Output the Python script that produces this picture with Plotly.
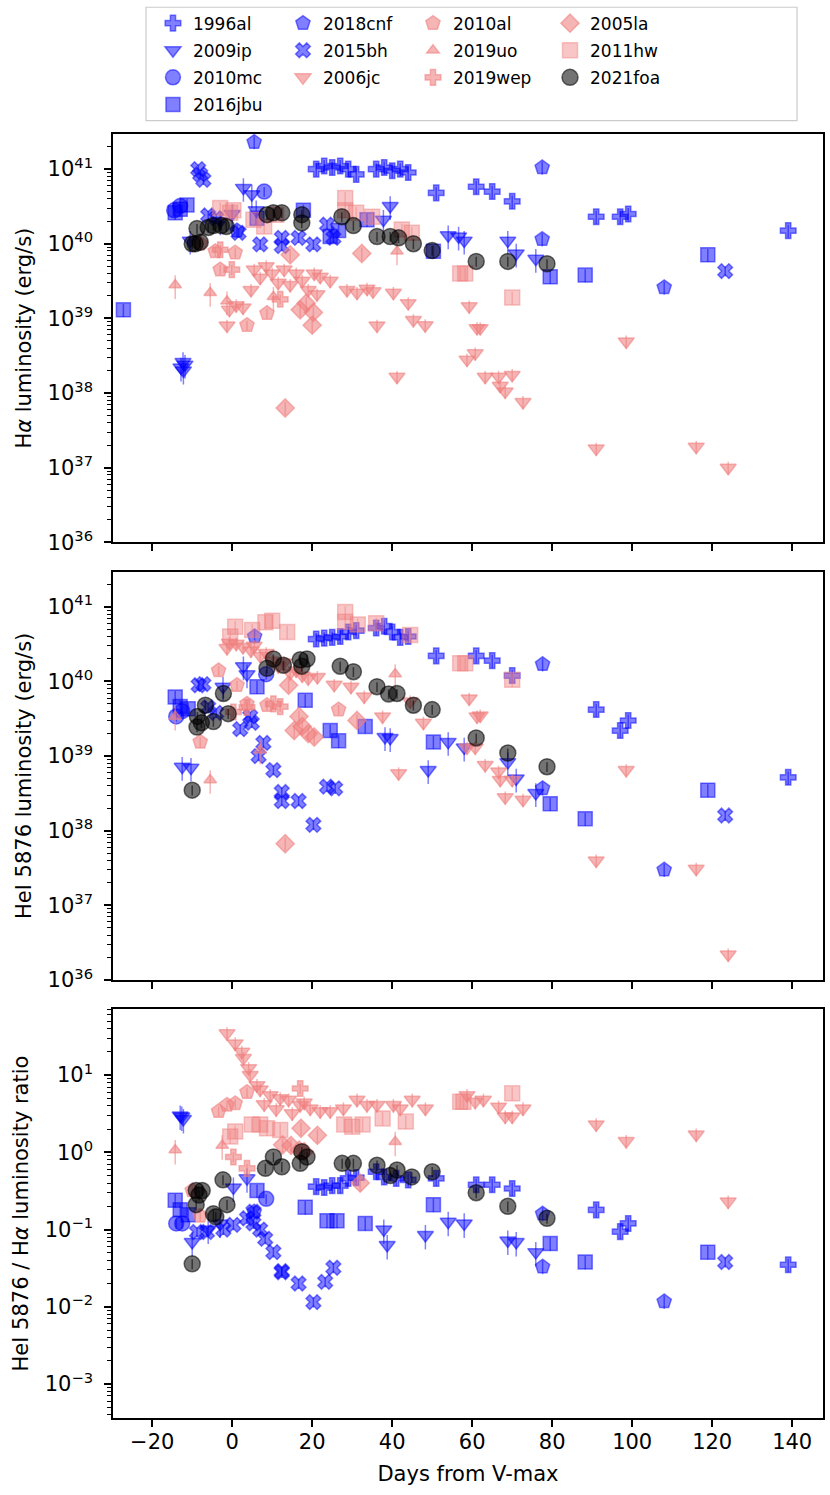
import plotly.graph_objects as go

# Days from V-max and line luminosities (erg/s).
# HA = H-alpha, HE = HeI 5876, RATIO = HeI / H-alpha

# 1996al
AL96_HA_DAYS = [21, 23, 25, 27, 29, 31, 36, 38, 40, 42, 44, 51, 61, 65, 70, 91, 97, 99, 139]
AL96_HA = [1.0e41, 1.1e41, 1.05e41, 1.1e41, 1.0e41, 8.5e40, 1.0e41, 1.05e41, 9.5e40, 1.0e41,
           9.0e40, 4.8e40, 5.8e40, 5.0e40, 3.7e40, 2.3e40, 2.3e40, 2.5e40, 1.5e40]
AL96_HE_DAYS = [21, 23, 25, 27, 29, 31, 36, 38, 40, 42, 44, 51, 61, 65, 70, 91, 97, 99, 139]
AL96_HE = [3.7e40, 3.8e40, 3.9e40, 4.0e40, 4.6e40, 4.8e40, 5.2e40, 5.5e40, 4.6e40, 3.9e40,
           4.0e40, 2.2e40, 2.2e40, 1.9e40, 1.2e40, 4.2e39, 2.2e39, 3.0e39, 5.2e38]
AL96_RATIO_DAYS = [21, 23, 25, 27, 29, 31, 36, 38, 41, 44, 51, 61, 65, 70, 91, 97, 99, 139]
AL96_RATIO = [0.36, 0.35, 0.37, 0.37, 0.46, 0.47, 0.56, 0.48, 0.46, 0.44, 0.46, 0.38, 0.38,
              0.34, 0.18, 0.094, 0.12, 0.035]

# 2009ip
IP09_HA_DAYS = [-12.8, -12.3, -11.8, -12.2, -10.5, -3, 0, 2.8, 4.9, 6, 37.8, 39.5, 54, 56.6,
                58, 68.9, 71, 75.9]
IP09_HA = [2.2e38, 2.6e38, 2.4e38, 2.0e38, 1.1e40, 2.0e40, 2.5e40, 5.6e40, 4.6e40, 2.8e40,
           2.1e40, 3.2e40, 1.3e40, 1.25e40, 1.1e40, 1.1e40, 7.4e39, 6.3e39]
IP09_HE_DAYS = [-12.5, -10.3, -2.3, 2.8, 3.7, 38.2, 39.5, 49, 54, 58, 68.9, 71, 75.9]
IP09_HE = [7.2e38, 7.0e38, 8.5e39, 1.6e40, 1.25e40, 1.8e39, 1.75e39, 6.5e38, 1.55e39, 1.3e39,
           8.3e38, 5.0e38, 3.2e38]
IP09_RATIO_DAYS = [-13, -12.6, -12.2, -10, -6, -3, 0.3, 3.7, 37.9, 38.75, 48.3, 54, 58, 68.9,
                   71, 75.9]
IP09_RATIO = [3.0, 2.9, 2.7, 0.069, 0.10, 0.12, 0.35, 0.46, 0.10, 0.063, 0.085, 0.126, 0.12,
              0.072, 0.069, 0.051]

# 2010mc
MC10_HA_DAYS = [-14.5, -13, 8]
MC10_HA = [2.8e40, 3.2e40, 5.0e40]
MC10_HE_DAYS = [-14, -12.5, 8.5]
MC10_HE = [3.4e39, 4.0e39, 1.25e40]
MC10_RATIO_DAYS = [-14, -12.5, 8.5]
MC10_RATIO = [0.12, 0.12, 0.25]

# 2016jbu
JBU16_HA_DAYS = [-27.2, -14.25, -13, -11.3, 6.2, 17.8, 24.5, 26.6, 33.7, 50.3, 79.5, 88.25, 118.9]
JBU16_HA = [1.3e39, 2.6e40, 2.9e40, 3.3e40, 2.2e40, 2.8e40, 1.25e40, 1.5e40, 2.1e40, 7.9e39,
            3.6e39, 3.8e39, 7.1e39]
JBU16_HE_DAYS = [-14.25, -13, -11, 6.2, 18.25, 24.5, 26.6, 33.25, 50.3, 79.5, 88.25, 118.9]
JBU16_HE = [6.2e39, 4.6e39, 4.3e39, 8.5e39, 5.6e39, 2.2e39, 1.6e39, 2.5e39, 1.55e39, 2.3e38,
            1.45e38, 3.5e38]
JBU16_RATIO_DAYS = [-14.25, -13, -11, 6.2, 18.25, 23.7, 26.2, 33.25, 50.3, 79.5, 88.25, 118.9]
JBU16_RATIO = [0.24, 0.18, 0.155, 0.32, 0.195, 0.13, 0.13, 0.12, 0.21, 0.066, 0.038, 0.051]

# 2018cnf
CNF18_HA_DAYS = [1.2, 5.5, 77.5, 77.5, 108]
CNF18_HA = [1.5e40, 2.3e41, 1.05e41, 1.15e40, 2.6e39]
CNF18_HE_DAYS = [5.6, 77.6, 77.6, 108]
CNF18_HE = [4.0e40, 1.7e40, 3.7e38, 3.0e37]
CNF18_RATIO_DAYS = [5.5, 77.6, 77.6, 108]
CNF18_RATIO = [0.17, 0.16, 0.033, 0.0117]

# 2015bh
BH15_HA_DAYS = [-8.5, -7.2, -8, -6, -4, 1.6, 7, 12.4, 12.4, 16.6, 20.3, 23.7, 25.3, 123.25]
BH15_HA = [1.0e41, 7.2e40, 8.5e40, 2.4e40, 2.2e40, 1.4e40, 9.8e39, 1.2e40, 9.3e39, 1.2e40,
           9.8e39, 1.8e40, 1.2e40, 4.3e39]
BH15_HE_DAYS = [-8.4, -7.2, -6, -4, 2, 4.5, 4.9, 6.6, 7.8, 10.3, 12.4, 12.4, 16.6, 20.3, 23.7,
                25.75, 123.25]
BH15_HE = [8.9e39, 9.2e39, 4.5e39, 3.8e39, 2.3e39, 3.4e39, 2.8e39, 1.0e39, 1.5e39, 6.5e38,
           3.3e38, 2.5e38, 2.5e38, 1.2e38, 3.9e38, 3.7e38, 1.6e38]
BH15_RATIO_DAYS = [-8.8, -6.3, -2.2, 0.3, 3.7, 5.3, 5.3, 7, 8.25, 10.3, 12.4, 12.4, 16.6, 20.3,
                   23.25, 25.3, 123.25]
BH15_RATIO = [0.093, 0.093, 0.10, 0.115, 0.14, 0.17, 0.12, 0.10, 0.076, 0.051, 0.029, 0.028,
              0.020, 0.0115, 0.021, 0.032, 0.038]

# 2006jc
JC06_HA_DAYS = [-1.3, -0.7, 1, 2.7, 4.7, 5.5, 7, 8.5, 10, 11.5, 13, 14.5, 16, 17.5, 19, 20.5,
                21.2, 22, 24.5, 28.7, 31.2, 33.7, 35.2, 36.2, 40.3, 41.2, 44, 45.3, 48.25, 58.7,
                59.25, 60.75, 61.2, 62, 63.25, 66.6, 67, 68.25, 70, 72.7, 91, 98.5, 116, 124]
JC06_HA = [8.0e38, 1.3e39, 1.5e39, 1.4e39, 2.4e39, 4.5e39, 3.5e39, 5.0e39, 4.0e39, 3.0e39,
           4.5e39, 2.8e39, 4.0e39, 3.2e39, 2.4e39, 4.0e39, 2.1e39, 3.6e39, 3.2e39, 2.4e39,
           2.2e39, 2.5e39, 2.3e39, 8.0e38, 2.2e39, 1.65e38, 1.6e39, 9.5e38, 8.1e38, 2.8e38,
           1.45e39, 3.4e38, 7.4e38, 7.4e38, 1.65e38, 1.65e38, 1.25e38, 1.05e38, 1.75e38,
           7.6e37, 1.8e37, 4.9e38, 1.9e37, 1.0e37]
JC06_HE_DAYS = [-1.3, -0.7, 1, 2.7, 4.7, 5.5, 7, 8.5, 10, 11.5, 13, 14.5, 16, 17.5, 19, 21.3,
                25.5, 29.7, 33, 37.6, 41.6, 44.5, 47.8, 58.7, 59.25, 60.75, 61.2, 62, 63.25,
                66.6, 67, 68.25, 70, 72.7, 91, 98.5, 116, 124]
JC06_HE = [2.8e40, 3.3e40, 3.2e40, 2.9e40, 2.6e40, 3.0e40, 2.2e40, 2.4e40, 1.9e40, 1.6e40,
           1.8e40, 1.3e40, 1.4e40, 1.2e40, 1.1e40, 1.15e40, 9.0e39, 8.5e39, 6.3e39, 3.4e39,
           5.9e38, 5.4e39, 2.8e39, 1.3e39, 5.9e39, 1.3e39, 3.4e39, 3.5e39, 7.6e38, 6.2e38,
           4.8e38, 2.8e38, 4.8e38, 2.6e38, 4.0e37, 6.5e38, 3.1e37, 2.2e36]
JC06_RATIO_DAYS = [-1.3, 0.75, 2.4, 2.8, 4.1, 4.5, 6.2, 7, 8, 9.5, 11, 12, 14.1, 15, 17, 18,
                   19.5, 22, 24.5, 27.8, 31.2, 33.7, 36.2, 40.3, 42, 45, 48.3, 58.7, 60.75,
                   62.8, 66.6, 68.25, 70, 72.7, 91, 98.5, 116, 124]
JC06_RATIO = [34.7, 25.7, 20.0, 16.6, 12.3, 10.0, 7.4, 6.5, 4.2, 5.5, 3.6, 5.0, 4.8, 3.2, 4.1,
              4.4, 3.7, 3.4, 3.4, 3.7, 4.8, 4.1, 4.1, 4.1, 3.7, 4.8, 3.7, 5.5, 4.5, 4.8, 3.9,
              2.9, 2.9, 3.7, 2.3, 1.4, 1.7, 0.23]

# 2010al
AL10_HA_DAYS = [-8, -4.25, -3, 0.75, 3.7, 8.7]
AL10_HA = [1.0e40, 7.9e39, 4.5e39, 7.6e39, 8.1e38, 1.17e39]
AL10_HE_DAYS = [-8, -3.4, 1.2, 3.7, 8.7, 26.6]
AL10_HE = [1.55e39, 1.4e40, 8.9e39, 5.0e39, 4.8e39, 4.2e39]
AL10_RATIO_DAYS = [-10, -8, -3.4, -1.3, 0.75, 3.7]
AL10_RATIO = [0.32, 0.15, 3.4, 4.1, 4.3, 6.0]

# 2019uo
UO19_HA_DAYS = [-14.25, -5.5, -1.3, 10.3, 41.2]
UO19_HA = [2.8e39, 2.2e39, 1.7e39, 1.95e39, 7.9e39]
UO19_HE_DAYS = [-14.25, -5.5, 7, 40.75]
UO19_HE = [3.4e39, 4.8e38, 1.2e39, 1.26e40]
UO19_RATIO_DAYS = [-14.25, -2.5, 40.75]
UO19_RATIO = [1.07, 1.23, 1.37]

# 2019wep
WEP19_HA_DAYS = [-3, -0.1, 12]
WEP19_HA = [8.3e39, 4.5e39, 1.8e39]
WEP19_HE_DAYS = [0.3, 3.7, 10.3, 12]
WEP19_HE = [3.9e39, 4.5e39, 5.0e39, 4.6e39]
WEP19_RATIO_DAYS = [0.3, 3.7, 17]
WEP19_RATIO = [0.87, 0.62, 6.7]

# 2005la
LA05_HA_DAYS = [13.25, 14.5, 17, 18.5, 20, 20.3, 32.4]
LA05_HA = [6.3e37, 7.1e39, 1.3e39, 1.6e39, 8.1e38, 1.2e39, 7.4e39]
LA05_HE_DAYS = [13.25, 14.1, 15.5, 16.7, 17.5, 19, 20.5, 31.2]
LA05_HE = [6.7e37, 8.9e39, 2.2e39, 3.4e39, 2.5e39, 2.0e39, 1.8e39, 3.0e39]
LA05_RATIO_DAYS = [12.6, 14.7, 16.75, 17.2, 18, 21.3, 32]
LA05_RATIO = [1.25, 1.23, 1.07, 2.05, 1.02, 1.66, 0.40]

# 2011hw
HW11_HA_DAYS = [-3, -0.5, 0.3, 5.3, 8, 11, 28.25, 28.25, 31, 35, 42.4, 44.9, 57, 58.25, 70]
HW11_HA = [3.0e40, 2.6e40, 2.8e40, 2.1e40, 1.7e40, 2.45e40, 4.1e40, 2.8e40, 2.6e40, 2.3e40,
           1.55e40, 1.4e40, 4.0e39, 4.0e39, 1.9e39]
HW11_HE_DAYS = [-0.5, 0.75, 5, 8.3, 10, 13.75, 28.25, 28.25, 31.4, 36, 44.5, 57, 58.25, 70]
HW11_HE = [4.0e40, 5.4e40, 4.9e40, 6.2e40, 6.5e40, 4.6e40, 8.5e40, 6.3e40, 5.8e40, 6.0e40,
           4.2e40, 1.75e40, 1.75e40, 1.05e40]
HW11_RATIO_DAYS = [-0.5, 0.75, 4.9, 7, 8.7, 12, 28, 30, 32.6, 37.6, 43.4, 57, 57.8, 70]
HW11_RATIO = [1.6, 1.86, 2.3, 2.3, 2.05, 1.95, 2.3, 2.15, 2.3, 2.75, 2.5, 4.5, 4.5, 5.8]

# 2021foa
FOA21_HA_DAYS = [-10, -9.25, -8, -8.8, -6, -4.75, -2.7, -1.5, 8.7, 10.3, 12.4, 17.4, 17.4,
                 27.4, 30.3, 36.2, 39.5, 41.6, 45.3, 50, 61, 68.9, 78.7]
FOA21_HA = [1.0e40, 1.0e40, 1.05e40, 1.6e40, 1.65e40, 1.75e40, 1.75e40, 1.7e40, 2.45e40,
            2.6e40, 2.6e40, 2.45e40, 1.9e40, 2.3e40, 1.75e40, 1.25e40, 1.25e40, 1.2e40,
            1.0e40, 8.1e39, 5.8e39, 5.8e39, 5.4e39]
FOA21_HE_DAYS = [-10, -8.8, -8.7, -7.7, -6.7, -4.7, -2.2, -1, 8.7, 10.3, 12.8, 17, 17.4, 18.7,
                 27, 30.3, 36.2, 39.1, 41.2, 45.3, 50, 61, 68.9, 78.7]
FOA21_HE = [3.5e38, 2.45e39, 3.4e39, 2.8e39, 4.8e39, 2.9e39, 6.9e39, 3.7e39, 1.5e40, 2.0e40,
            1.65e40, 1.95e40, 1.6e40, 2.0e40, 1.6e40, 1.35e40, 8.5e39, 6.8e39, 6.9e39, 4.8e39,
            4.2e39, 1.75e39, 1.1e39, 7.2e38]
FOA21_RATIO_DAYS = [-10, -9, -7.5, -8.3, -9, -4.7, -4.1, -2.3, -1.3, 8.3, 10.3, 12.4, 17.4,
                    18.7, 17, 27.5, 30.3, 36.2, 39.5, 41.2, 44.9, 50, 61, 68.9, 78.7]
FOA21_RATIO = [0.036, 0.32, 0.32, 0.28, 0.21, 0.16, 0.146, 0.44, 0.21, 0.62, 0.87, 0.65, 1.02,
               0.87, 0.72, 0.72, 0.72, 0.68, 0.50, 0.59, 0.48, 0.56, 0.30, 0.20, 0.14]

# tick positions of the log axes
LUM_TICKS = [1e36, 1e37, 1e38, 1e39, 1e40, 1e41]
LUM_TICK_LABELS = ["10<sup>36</sup>", "10<sup>37</sup>", "10<sup>38</sup>", "10<sup>39</sup>",
                   "10<sup>40</sup>", "10<sup>41</sup>"]
RATIO_TICKS = [1e-3, 1e-2, 1e-1, 1, 10]
RATIO_TICK_LABELS = ["10<sup>\u22123</sup>", "10<sup>\u22122</sup>", "10<sup>\u22121</sup>",
                     "10<sup>0</sup>", "10<sup>1</sup>"]

BLUE = "rgba(0,0,255,0.5)"
SALMON = "rgba(240,128,128,0.58)"
SALMON_LIGHT = "rgba(240,128,128,0.45)"
BLACK = "rgba(0,0,0,0.55)"

# name, symbol, colour, size, error %, legend column, (Ha, HeI, ratio) data
SERIES = [
    ("1996al", "cross", BLUE, 13, 20, "legend",
     (AL96_HA_DAYS, AL96_HA), (AL96_HE_DAYS, AL96_HE), (AL96_RATIO_DAYS, AL96_RATIO)),
    ("2009ip", "triangle-down", BLUE, 14, 35, "legend",
     (IP09_HA_DAYS, IP09_HA), (IP09_HE_DAYS, IP09_HE), (IP09_RATIO_DAYS, IP09_RATIO)),
    ("2010mc", "circle", BLUE, 15, 15, "legend",
     (MC10_HA_DAYS, MC10_HA), (MC10_HE_DAYS, MC10_HE), (MC10_RATIO_DAYS, MC10_RATIO)),
    ("2016jbu", "square", BLUE, 14, 20, "legend",
     (JBU16_HA_DAYS, JBU16_HA), (JBU16_HE_DAYS, JBU16_HE), (JBU16_RATIO_DAYS, JBU16_RATIO)),
    ("2018cnf", "pentagon", BLUE, 15, 20, "legend2",
     (CNF18_HA_DAYS, CNF18_HA), (CNF18_HE_DAYS, CNF18_HE), (CNF18_RATIO_DAYS, CNF18_RATIO)),
    ("2015bh", "x", BLUE, 13, 15, "legend2",
     (BH15_HA_DAYS, BH15_HA), (BH15_HE_DAYS, BH15_HE), (BH15_RATIO_DAYS, BH15_RATIO)),
    ("2006jc", "triangle-down", SALMON, 14, 20, "legend2",
     (JC06_HA_DAYS, JC06_HA), (JC06_HE_DAYS, JC06_HE), (JC06_RATIO_DAYS, JC06_RATIO)),
    ("2010al", "pentagon", SALMON, 15, 15, "legend3",
     (AL10_HA_DAYS, AL10_HA), (AL10_HE_DAYS, AL10_HE), (AL10_RATIO_DAYS, AL10_RATIO)),
    ("2019uo", "triangle-up", SALMON, 11, 35, "legend3",
     (UO19_HA_DAYS, UO19_HA), (UO19_HE_DAYS, UO19_HE), (UO19_RATIO_DAYS, UO19_RATIO)),
    ("2019wep", "cross", SALMON, 13, 15, "legend3",
     (WEP19_HA_DAYS, WEP19_HA), (WEP19_HE_DAYS, WEP19_HE), (WEP19_RATIO_DAYS, WEP19_RATIO)),
    ("2005la", "diamond", SALMON, 14, 20, "legend4",
     (LA05_HA_DAYS, LA05_HA), (LA05_HE_DAYS, LA05_HE), (LA05_RATIO_DAYS, LA05_RATIO)),
    ("2011hw", "square", SALMON_LIGHT, 15, 20, "legend4",
     (HW11_HA_DAYS, HW11_HA), (HW11_HE_DAYS, HW11_HE), (HW11_RATIO_DAYS, HW11_RATIO)),
    ("2021foa", "circle", BLACK, 16, 15, "legend4",
     (FOA21_HA_DAYS, FOA21_HA), (FOA21_HE_DAYS, FOA21_HE), (FOA21_RATIO_DAYS, FOA21_RATIO)),
]

FONT = "DejaVu Sans"
fig = go.Figure()

for name, symbol, color, size, err, leg, *panels in SERIES:
    for i, (days, vals) in enumerate(panels):
        suffix = "" if i == 0 else str(i + 1)
        fig.add_trace(go.Scatter(
            x=days, y=vals, mode="markers", name=name,
            xaxis="x" + suffix, yaxis="y" + suffix,
            legend=leg, legendgroup=name, showlegend=(i == 0),
            marker=dict(symbol=symbol, size=size, color=color,
                        line=dict(color=color, width=1.5)),
            error_y=dict(type="percent", value=err, color=color, thickness=1.5, width=0),
        ))

x_common = dict(
    range=[-29.8, 147.7], dtick=20, tick0=0, showgrid=False, zeroline=False,
    showline=True, mirror=True, linecolor="black", linewidth=1.5,
    ticks="outside", ticklen=7, tickwidth=1.5, tickcolor="black",
    tickfont=dict(size=21, color="black"),
)
y_common = dict(
    type="log", showgrid=False, zeroline=False,
    showline=True, mirror=True, linecolor="black", linewidth=1.5,
    ticks="outside", ticklen=7, tickwidth=1.5, tickcolor="black",
    tickfont=dict(size=21, color="black"), ticklabelstandoff=7,
    minor=dict(ticks="outside", ticklen=4, tickwidth=1.1, tickcolor="black",
               dtick="D1", showgrid=False),
    title_standoff=10,
)
title_font = dict(size=21, color="black")

legend_common = dict(
    orientation="v", y=1.1, yanchor="top", xanchor="left",
    bgcolor="rgba(0,0,0,0)", borderwidth=0, traceorder="grouped", tracegroupgap=2,
    font=dict(size=17, color="black", family=FONT), itemwidth=30,
)

fig.update_layout(
    width=830, height=1495,
    margin=dict(l=113, r=7, t=134, b=77, autoexpand=False),
    paper_bgcolor="white", plot_bgcolor="white",
    font=dict(family=FONT, color="black"),
    xaxis=dict(x_common, anchor="y", showticklabels=False),
    xaxis2=dict(x_common, anchor="y2", showticklabels=False),
    xaxis3=dict(x_common, anchor="y3", ticklabelstandoff=-3,
                title=dict(text="Days from V-max", font=title_font, standoff=13)),
    yaxis=dict(y_common, domain=[0.682, 1.0], range=[36, 41.47], anchor="x",
               tickvals=LUM_TICKS, ticktext=LUM_TICK_LABELS,
               title=dict(text="H<i>α</i> luminosity (erg/s)", font=title_font)),
    yaxis2=dict(y_common, domain=[0.3411, 0.6591], range=[36, 41.47], anchor="x2",
                tickvals=LUM_TICKS, ticktext=LUM_TICK_LABELS,
                title=dict(text="HeI 5876 luminosity (erg/s)", font=title_font)),
    yaxis3=dict(y_common, domain=[0.0, 0.3185], range=[-3.44, 1.855], anchor="x3",
                tickvals=RATIO_TICKS, ticktext=RATIO_TICK_LABELS,
                title=dict(text="HeI 5876 / H<i>α</i> luminosity ratio", font=title_font)),
    legend=dict(legend_common, x=0.0563),
    legend2=dict(legend_common, x=0.2394),
    legend3=dict(legend_common, x=0.4225),
    legend4=dict(legend_common, x=0.6155),
    shapes=[dict(type="rect", xref="paper", yref="paper",
                 x0=0.0465, x1=0.9634, y0=1.0104, y1=1.0987,
                 line=dict(color="#cccccc", width=1.2), fillcolor="rgba(255,255,255,0)",
                 layer="below")],
)

# the page body has a default 8px margin; drop it so the figure sits at the corner
fig.write_html("out.html", config={"displayModeBar": False},
               post_script="document.body.style.margin='0px';")
